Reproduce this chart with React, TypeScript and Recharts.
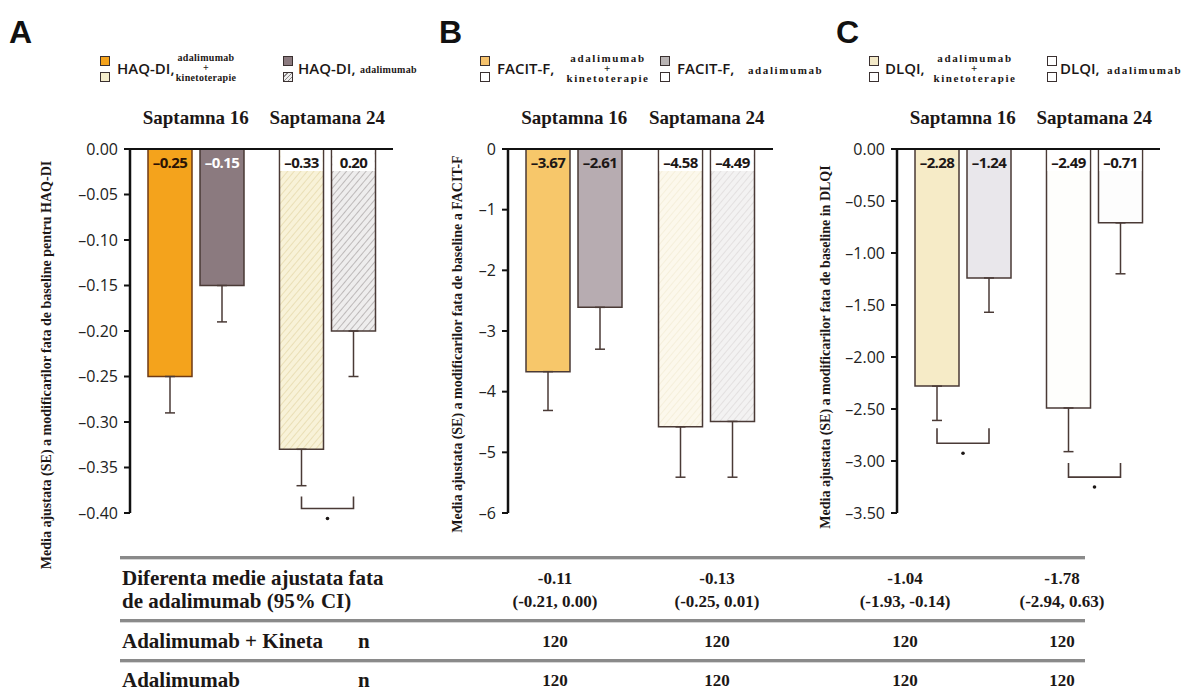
import React from "react";
import { BarChart, Bar, XAxis, YAxis, Cell, ErrorBar, LabelList } from "recharts";

const weeks = ["Saptamna 16", "Saptamana 24"];

// A - HAQ-DI
const haqCombo = [-0.25, -0.33];
const haqComboErr = [0.04, 0.04];
const haqAdal = [-0.15, -0.2];
const haqAdalErr = [0.04, 0.05];
const haqComboLabels = ["–0.25", "–0.33"];
const haqAdalLabels = ["–0.15", "0.20"];
const haqTicks = [0, -0.05, -0.1, -0.15, -0.2, -0.25, -0.3, -0.35, -0.4];
const haqBrackets = [null, [-0.382, -0.395, -0.406]];

// B - FACIT-F
const facCombo = [-3.67, -4.58];
const facComboErr = [0.64, 0.83];
const facAdal = [-2.61, -4.49];
const facAdalErr = [0.69, 0.92];
const facComboLabels = ["–3.67", "–4.58"];
const facAdalLabels = ["–2.61", "–4.49"];
const facTicks = [0, -1, -2, -3, -4, -5, -6];
const facBrackets = [null, null];

// C - DLQI
const dlqCombo = [-2.28, -2.49];
const dlqComboErr = [0.33, 0.42];
const dlqAdal = [-1.24, -0.71];
const dlqAdalErr = [0.33, 0.49];
const dlqComboLabels = ["–2.28", "–2.49"];
const dlqAdalLabels = ["–1.24", "–0.71"];
const dlqTicks = [0, -0.5, -1, -1.5, -2, -2.5, -3, -3.5];
const dlqBrackets = [
  [-2.685, -2.83, -2.925],
  [-3.02, -3.155, -3.25],
];

// table
const diffMean = ["-0.11", "-0.13", "-1.04", "-1.78"];
const diffCI = ["(-0.21, 0.00)", "(-0.25, 0.01)", "(-1.93, -0.14)", "(-2.94, 0.63)"];
const nCombo = [120, 120, 120, 120];
const nAdal = [120, 120, 120, 120];
const tableCols = [555, 717, 905, 1062];

const SANS = "'Open Sans', 'DejaVu Sans', sans-serif";
const SERIF = "'Liberation Serif', 'DejaVu Serif', serif";
const INK = "#1c1716";
const BAR_LINE = "#4a3a36";
const BAR_SIZE = 44;
const BAR_GAP = 8;
const CHART_H = 540;

const buildData = (
  combo: number[],
  comboErr: number[],
  adal: number[],
  adalErr: number[],
  comboLbl: string[],
  adalLbl: string[]
) =>
  weeks.map((week, i) => ({
    week,
    combo: combo[i],
    adal: adal[i],
    comboErr: [comboErr[i], 0],
    adalErr: [adalErr[i], 0],
    comboLabel: comboLbl[i],
    adalLabel: adalLbl[i],
  }));

type PanelCfg = {
  id: string;
  left: number;
  width: number;
  ml: number;
  mr: number;
  domain: [number, number];
  ticks: number[];
  fmt: (v: number) => string;
  data: ReturnType<typeof buildData>;
  adal: number[];
  comboFill: string[];
  adalFill: string[];
  comboStroke: string[];
  comboText: string[];
  adalText: string[];
  boxed: boolean[];
  brackets: (number[] | null)[];
  hatch: { combo: [string, string]; adal: [string, string] };
};

const dash = (s: string) => s.replace("-", "–");

const panels: PanelCfg[] = [
  {
    id: "a",
    left: 0,
    width: 420,
    ml: 70,
    mr: 27,
    domain: [-0.4, 0],
    ticks: haqTicks,
    fmt: (v) => dash(v.toFixed(2)),
    data: buildData(haqCombo, haqComboErr, haqAdal, haqAdalErr, haqComboLabels, haqAdalLabels),
    adal: haqAdal,
    comboFill: ["#f4a31c", "url(#hatch-a-combo)"],
    adalFill: ["#8b7a7f", "url(#hatch-a-adal)"],
    comboStroke: ["#6e3a14", BAR_LINE],
    comboText: ["#2b1305", INK],
    adalText: ["#ffffff", INK],
    boxed: [false, true],
    brackets: haqBrackets,
    hatch: { combo: ["#f8f2d8", "#e4d8a8"], adal: ["#eeeded", "#a8a3a3"] },
  },
  {
    id: "b",
    left: 420,
    width: 400,
    ml: 28,
    mr: 47,
    domain: [-6, 0],
    ticks: facTicks,
    fmt: (v) => dash(String(v)),
    data: buildData(facCombo, facComboErr, facAdal, facAdalErr, facComboLabels, facAdalLabels),
    adal: facAdal,
    comboFill: ["#f7c76a", "url(#hatch-b-combo)"],
    adalFill: ["#b7acb1", "url(#hatch-b-adal)"],
    comboStroke: [BAR_LINE, BAR_LINE],
    comboText: [INK, INK],
    adalText: [INK, INK],
    boxed: [false, true],
    brackets: facBrackets,
    hatch: { combo: ["#fcf8ec", "#f3ecd4"], adal: ["#f3f2f2", "#dcd9d9"] },
  },
  {
    id: "c",
    left: 820,
    width: 379,
    ml: 17,
    mr: 39,
    domain: [-3.5, 0],
    ticks: dlqTicks,
    fmt: (v) => dash(v.toFixed(2)),
    data: buildData(dlqCombo, dlqComboErr, dlqAdal, dlqAdalErr, dlqComboLabels, dlqAdalLabels),
    adal: dlqAdal,
    comboFill: ["#f6ebc7", "#fefefc"],
    adalFill: ["#e9e7eb", "#fdfdfd"],
    comboStroke: [BAR_LINE, BAR_LINE],
    comboText: [INK, INK],
    adalText: [INK, INK],
    boxed: [false, true],
    brackets: dlqBrackets,
    hatch: { combo: ["#ffffff", "#ffffff"], adal: ["#ffffff", "#ffffff"] },
  },
];

const boxOf = (props: any) => {
  const vb = props.viewBox ?? props;
  const { x, y, width, height } = vb;
  return { x: Number(x), y: Number(y), width: Number(width), height: Number(height) };
};

const barLabel = (colors: string[], boxed: boolean[]) => (props: any) => {
  const { x, y, width, height } = boxOf(props);
  const idx = props.index ?? 0;
  const top = Math.min(y, y + height);
  return (
    <g>
      {boxed[idx] && <rect x={x + 1} y={top + 1} width={width - 2} height={21} fill="#ffffff" />}
      <text
        x={x + width / 2}
        y={top + 13}
        textAnchor="middle"
        dominantBaseline="central"
        fontFamily={SANS}
        fontWeight={700}
        fontSize={15}
        letterSpacing={-0.6}
        fill={colors[idx]}
      >
        {props.value}
      </text>
    </g>
  );
};

const bracketLabel = (p: PanelCfg) => (props: any) => {
  const idx = props.index ?? 0;
  const b = p.brackets[idx];
  if (!b) return null;
  const { x, y, width, height } = boxOf(props);
  const top = Math.min(y, y + height);
  const ppu = Math.abs(height) / Math.abs(p.adal[idx]);
  const yOf = (v: number) => top + Math.abs(v) * ppu;
  const xR = x + width / 2;
  const xL = x - BAR_GAP - width / 2;
  const y1 = yOf(b[0]);
  const y2 = yOf(b[1]);
  return (
    <g>
      <path
        d={`M${xL},${y1} L${xL},${y2} L${xR},${y2} L${xR},${y1}`}
        fill="none"
        stroke={BAR_LINE}
        strokeWidth={1.6}
      />
      <circle cx={(xL + xR) / 2} cy={yOf(b[2])} r={1.8} fill={INK} />
    </g>
  );
};

function Hatch({ id, base, line }: { id: string; base: string; line: string }) {
  return (
    <pattern id={id} width={5} height={5} patternUnits="userSpaceOnUse" patternTransform="rotate(40)">
      <rect width={5} height={5} fill={base} />
      <line x1={0} y1={0} x2={0} y2={5} stroke={line} strokeWidth={1.4} />
    </pattern>
  );
}

function Panel({ p }: { p: PanelCfg }) {
  return (
    <div style={{ position: "absolute", left: p.left, top: 0 }}>
      <BarChart
        width={p.width}
        height={CHART_H}
        data={p.data}
        margin={{ top: 119, right: p.mr, bottom: CHART_H - 513, left: p.ml }}
        barGap={BAR_GAP}
        barSize={BAR_SIZE}
      >
        <defs>
          <Hatch id={`hatch-${p.id}-combo`} base={p.hatch.combo[0]} line={p.hatch.combo[1]} />
          <Hatch id={`hatch-${p.id}-adal`} base={p.hatch.adal[0]} line={p.hatch.adal[1]} />
        </defs>
        <XAxis
          dataKey="week"
          orientation="top"
          height={30}
          interval={0}
          tickLine={false}
          tickSize={0}
          tickMargin={25}
          axisLine={{ stroke: "#111", strokeWidth: 2 }}
          tick={{ fontFamily: SERIF, fontSize: 19, fontWeight: 700, fill: INK }}
        />
        <YAxis
          type="number"
          domain={p.domain}
          ticks={p.ticks}
          interval={0}
          width={60}
          tickFormatter={p.fmt}
          tickSize={6}
          tickMargin={6}
          axisLine={{ stroke: "#111", strokeWidth: 2.5 }}
          tickLine={{ stroke: "#111", strokeWidth: 2 }}
          tick={{ fontFamily: SANS, fontSize: 16, fill: "#222" }}
        />
        <Bar dataKey="combo" isAnimationActive={false} strokeWidth={1.5}>
          {p.data.map((d, i) => (
            <Cell key={d.week} fill={p.comboFill[i]} stroke={p.comboStroke[i]} />
          ))}
          <ErrorBar
            dataKey="comboErr"
            direction="y"
            width={5}
            stroke={BAR_LINE}
            strokeWidth={1.5}
            isAnimationActive={false}
          />
          <LabelList dataKey="comboLabel" content={barLabel(p.comboText, p.boxed)} />
        </Bar>
        <Bar dataKey="adal" isAnimationActive={false} strokeWidth={1.5}>
          {p.data.map((d, i) => (
            <Cell key={d.week} fill={p.adalFill[i]} stroke={BAR_LINE} />
          ))}
          <ErrorBar
            dataKey="adalErr"
            direction="y"
            width={5}
            stroke={BAR_LINE}
            strokeWidth={1.5}
            isAnimationActive={false}
          />
          <LabelList dataKey="adalLabel" content={barLabel(p.adalText, p.boxed)} />
          <LabelList dataKey="adalLabel" content={bracketLabel(p)} />
        </Bar>
      </BarChart>
    </div>
  );
}

function Txt({
  x,
  y,
  anchor = "start",
  style,
  children,
}: {
  x: number;
  y: number;
  anchor?: "start" | "middle" | "end";
  style?: React.CSSProperties;
  children: React.ReactNode;
}) {
  const tx = anchor === "middle" ? "-50%" : anchor === "end" ? "-100%" : "0";
  return (
    <div
      style={{
        position: "absolute",
        left: x,
        top: y,
        transform: `translate(${tx}, -50%)`,
        whiteSpace: "nowrap",
        lineHeight: 1,
        color: INK,
        ...style,
      }}
    >
      {children}
    </div>
  );
}

function Swatch({ x, y, bg }: { x: number; y: number; bg: string }) {
  return (
    <div
      style={{
        position: "absolute",
        left: x,
        top: y,
        width: 10,
        height: 10,
        boxSizing: "border-box",
        border: "1.5px solid #3a3030",
        background: bg,
      }}
    />
  );
}

type LegendCfg = {
  name: string;
  sq: [number, number];
  nameX: [number, number];
  stackX: number;
  tailX: number;
  colors: [string, string, string, string];
  small: number;
  spacing: number;
};

const HATCH_CSS = "repeating-linear-gradient(135deg, #eeeeee 0 2px, #8a8585 2px 3px)";

const legends: LegendCfg[] = [
  {
    name: "HAQ-DI,",
    sq: [100, 283],
    nameX: [117, 298],
    stackX: 206,
    tailX: 360,
    colors: ["#f4a31c", "#f4edcc", "#8b7a7f", HATCH_CSS],
    small: 10,
    spacing: 0.3,
  },
  {
    name: "FACIT-F,",
    sq: [480, 660],
    nameX: [497, 677],
    stackX: 608,
    tailX: 748,
    colors: ["#f5c26c", "#ffffff", "#b9b4b4", "#ffffff"],
    small: 11,
    spacing: 1.6,
  },
  {
    name: "DLQI,",
    sq: [869, 1047],
    nameX: [885, 1060],
    stackX: 975,
    tailX: 1107,
    colors: ["#f3e9c8", "#ffffff", "#ffffff", "#ffffff"],
    small: 11,
    spacing: 1.6,
  },
];

const LEG_Y = 68;

function Legend({ l }: { l: LegendCfg }) {
  const smallStyle: React.CSSProperties = {
    fontFamily: SERIF,
    fontWeight: 700,
    fontSize: l.small,
    letterSpacing: l.spacing,
  };
  const nameStyle: React.CSSProperties = { fontFamily: SANS, fontSize: 15, fontWeight: 600 };
  return (
    <>
      <Swatch x={l.sq[0]} y={LEG_Y - 12} bg={l.colors[0]} />
      <Swatch x={l.sq[0]} y={LEG_Y + 4} bg={l.colors[1]} />
      <Txt x={l.nameX[0]} y={LEG_Y} style={nameStyle}>
        {l.name}
      </Txt>
      <Txt x={l.stackX} y={LEG_Y - 10} anchor="middle" style={smallStyle}>
        adalimumab
      </Txt>
      <Txt x={l.stackX} y={LEG_Y} anchor="middle" style={smallStyle}>
        +
      </Txt>
      <Txt x={l.stackX} y={LEG_Y + 10} anchor="middle" style={smallStyle}>
        kinetoterapie
      </Txt>
      <Swatch x={l.sq[1]} y={LEG_Y - 12} bg={l.colors[2]} />
      <Swatch x={l.sq[1]} y={LEG_Y + 4} bg={l.colors[3]} />
      <Txt x={l.nameX[1]} y={LEG_Y} style={nameStyle}>
        {l.name}
      </Txt>
      <Txt x={l.tailX} y={LEG_Y + 2} style={smallStyle}>
        adalimumab
      </Txt>
    </>
  );
}

const yLabels = [
  { text: "Media ajustata (SE) a modificarilor fata de baseline pentru HAQ-DI", x: 47, y: 365 },
  { text: "Media ajustata (SE) a modificarilor fata de baseline a FACIT-F", x: 458, y: 344 },
  { text: "Media ajustata (SE) a modificarilor fata de baseline in DLQI", x: 826, y: 347 },
];

const letters = [
  { t: "A", x: 9 },
  { t: "B", x: 439 },
  { t: "C", x: 836 },
];

function Rule({ y }: { y: number }) {
  return (
    <div
      style={{
        position: "absolute",
        left: 120,
        top: y,
        width: 965,
        height: 3,
        background: "#8a8a8a",
        borderBottom: "1px solid #d6d6d6",
      }}
    />
  );
}

export default function App() {
  const rowStyle: React.CSSProperties = { fontFamily: SERIF, fontWeight: 700, fontSize: 21 };
  const valStyle: React.CSSProperties = { fontFamily: SERIF, fontWeight: 700, fontSize: 17 };
  return (
    <div
      style={{
        position: "absolute",
        left: 0,
        top: 0,
        width: 1199,
        height: 694,
        background: "#ffffff",
        overflow: "hidden",
      }}
    >
      {panels.map((p) => (
        <Panel key={p.id} p={p} />
      ))}
      {legends.map((l) => (
        <Legend key={l.name} l={l} />
      ))}
      {letters.map((l) => (
        <div
          key={l.t}
          style={{
            position: "absolute",
            left: l.x,
            top: 16,
            fontFamily: "'Liberation Sans', Arial, sans-serif",
            fontWeight: 700,
            fontSize: 32,
            lineHeight: "32px",
            color: "#111",
          }}
        >
          {l.t}
        </div>
      ))}
      {yLabels.map((l) => (
        <Txt
          key={l.text}
          x={l.x}
          y={l.y}
          anchor="middle"
          style={{
            fontFamily: SERIF,
            fontSize: 14,
            fontWeight: 700,
            transform: "translate(-50%, -50%) rotate(-90deg)",
          }}
        >
          {l.text}
        </Txt>
      ))}

      <Rule y={556} />
      <Rule y={619} />
      <Rule y={659} />
      <Txt x={122} y={578} style={rowStyle}>
        Diferenta medie ajustata fata
      </Txt>
      <Txt x={122} y={601} style={rowStyle}>
        de adalimumab (95% CI)
      </Txt>
      <Txt x={122} y={641} style={rowStyle}>
        Adalimumab + Kineta
      </Txt>
      <Txt x={358} y={641} style={rowStyle}>
        n
      </Txt>
      <Txt x={122} y={680} style={rowStyle}>
        Adalimumab
      </Txt>
      <Txt x={358} y={680} style={rowStyle}>
        n
      </Txt>
      {tableCols.map((cx, i) => (
        <React.Fragment key={cx}>
          <Txt x={cx} y={578} anchor="middle" style={valStyle}>
            {diffMean[i]}
          </Txt>
          <Txt x={cx} y={601} anchor="middle" style={valStyle}>
            {diffCI[i]}
          </Txt>
          <Txt x={cx} y={641} anchor="middle" style={valStyle}>
            {nCombo[i]}
          </Txt>
          <Txt x={cx} y={680} anchor="middle" style={valStyle}>
            {nAdal[i]}
          </Txt>
        </React.Fragment>
      ))}
    </div>
  );
}
